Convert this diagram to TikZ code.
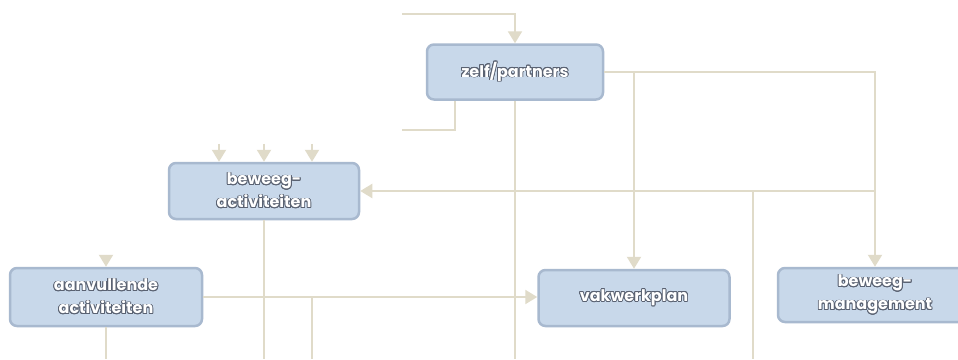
\documentclass[tikz,border=0pt]{standalone}
\usepackage{fontspec}
\setmainfont{Poppins}
\usepackage{contour}
\contourlength{0.8pt}
\usetikzlibrary{arrows.meta}

\definecolor{blokvul}{HTML}{C8D8EA}
\definecolor{blokrand}{HTML}{A8B9CF}
\definecolor{lijnkleur}{HTML}{E0DBC9}
\definecolor{schaduw}{HTML}{5A6272}

\newcommand{\wit}[1]{\contour{schaduw}{#1}}

\tikzset{
  blok/.style={draw=blokrand, fill=blokvul, line width=2.5pt, rounded corners=7pt,
    minimum height=55pt, align=center, text=white, inner sep=2pt,
    font=\bfseries\fontsize{16}{23}\selectfont},
  lijn/.style={draw=lijnkleur, line width=2pt},
  pijl/.style={lijn, -{Triangle[width=14pt,length=12pt]}}
}

\begin{document}
\begin{tikzpicture}[x=1pt,y=-1pt]
\clip (0,0) rectangle (958,359);
\fill[white] (0,0) rectangle (958,359);

% blokken
\node[blok, minimum width=176pt] (zelf) at (515,72) {\wit{zelf/partners}};
\node[blok, minimum width=190pt, minimum height=56pt] (activ) at (264,191) {\wit{beweeg-}\\\wit{activiteiten}};
\node[blok, minimum width=192pt, minimum height=58pt] (aanv) at (106,297) {\wit{aanvullende}\\\wit{activiteiten}};
\node[blok, minimum width=191pt, minimum height=56pt] (vak) at (634,298) {\wit{vakwerkplan}};
\node[blok, minimum width=194pt, minimum height=54pt] (mgmt) at (875,295) {\wit{beweeg-}\\\wit{management}};

% vrije eindpunten
\coordinate (inA) at (402,14);
\coordinate (uitA) at (402,130);
\coordinate (bodem) at (0,359);
\coordinate (tak) at (753,192);
\coordinate (tak2) at (312,297);

% verbindingen
\draw[pijl] (inA) -| (zelf.north);
\draw[lijn] ([xshift=-60pt]zelf.south) |- (uitA);
\draw[lijn] (zelf.south) -- (zelf.south |- bodem);
\draw[pijl] (zelf.east) -| (mgmt.north);
\draw[pijl] (zelf.east -| vak.north) -- (vak.north);
\draw[pijl] (mgmt.north |- activ.east) -- (activ.east);
\draw[lijn] (tak) -- (tak |- bodem);
\foreach \dx in {-45,0,48}
  \draw[pijl] ([xshift=\dx pt, yshift=18pt]activ.north) -- ([xshift=\dx pt]activ.north);
\draw[lijn] (activ.south) -- (activ.south |- bodem);
\draw[pijl] ([yshift=12pt]aanv.north) -- (aanv.north);
\draw[lijn] (aanv.south) -- (aanv.south |- bodem);
\draw[pijl] (aanv.east) -- (aanv.east -| vak.west);
\draw[lijn] (tak2) -- (tak2 |- bodem);
\end{tikzpicture}
\end{document}
